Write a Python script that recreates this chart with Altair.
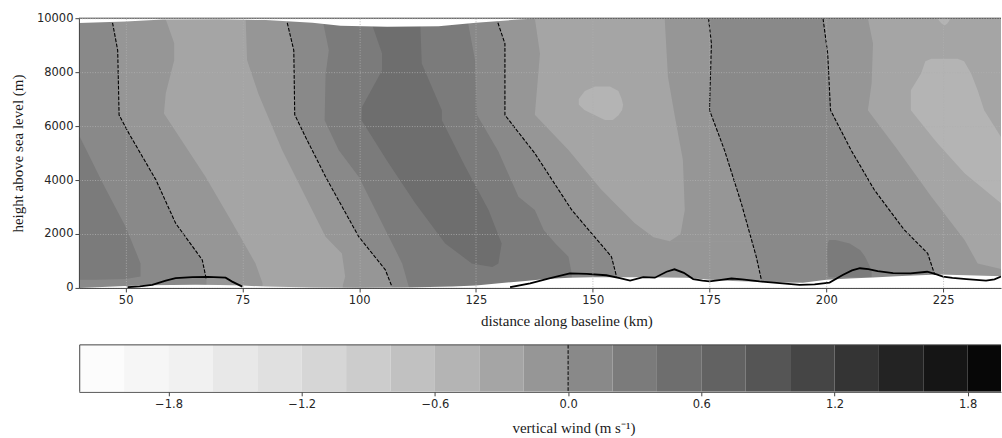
import altair as alt
import pandas as pd

# ------------------------------------------------------------------
# Cross-section of vertical wind along the baseline
# ------------------------------------------------------------------
X_MIN, X_MAX = 40.0, 237.4          # km shown along the baseline
Z_MIN, Z_MAX = 0, 10000             # m above sea level
CB_MIN, CB_MAX = -2.2036, 1.950     # visible part of the colour bar (m/s)

# filled-contour levels (m/s) and the grey shade of each band
levels = [-2.2, -2.0, -1.8, -1.6, -1.4, -1.2, -1.0, -0.8, -0.6, -0.4, -0.2,
          0.0, 0.2, 0.4, 0.6, 0.8, 1.0, 1.2, 1.4, 1.6, 1.8, 2.0]
greys = ["#fcfcfc", "#f6f6f6", "#f1f1f1", "#e8e8e8", "#e0e0e0", "#d6d6d6",
         "#cccccc", "#c1c1c1", "#b4b4b4", "#a5a5a5", "#969696", "#898989",
         "#7b7b7b", "#6e6e6e", "#626262", "#555555", "#454545", "#343434",
         "#232323", "#151515", "#070707"]
cb_ticks = [-1.8, -1.2, -0.6, 0.0, 0.6, 1.2, 1.8]

# vertical wind (band centre, m/s) of each shaded region
W_F, W_A, W_B, W_C, W_D, W_E = -0.5, -0.3, -0.1, 0.1, 0.3, 0.5

# zero contours of vertical wind (km, m)
zero1_km = [47.2, 48.3, 48.6, 50.7, 56.5, 60.7, 66.4, 67.3]
zero1_m = [9830, 8810, 6410, 5730, 4000, 2400, 1040, 300]
zero2_km = [84.6, 86.0, 86.2, 88.5, 92.8, 99.9, 105.6, 107.0]
zero2_m = [9830, 8810, 6420, 5600, 4120, 1900, 670, 50]
zero3_km = [129.7, 131.2, 131.2, 137.6, 145.5, 154.0, 155.1]
zero3_m = [9830, 9060, 6410, 4990, 2890, 1160, 420]
zero4_km = [174.8, 175.4, 175.0, 178.2, 181.8, 185.0, 186.1]
zero4_m = [9990, 9060, 6590, 5110, 3140, 1160, 300]
zero5_km = [199.3, 200.3, 200.9, 205.3, 210.3, 216.7, 221.7, 223.2]
zero5_m = [9990, 8690, 6590, 5110, 3630, 2150, 1280, 500]

# other band edges (km, m), west to east
a1_west_km = [58.6, 60.4, 60.4, 58.6, 58.2, 67.1, 72.1, 77.8, 79.3]
a1_west_m = [9950, 9070, 8440, 7230, 6470, 4120, 2640, 910, 180]
a1_east_km = [75.7, 76.0, 78.5, 83.5, 88.5, 92.8, 96.3, 97.0, 96.5]
a1_east_m = [9960, 8440, 7160, 5110, 3380, 1900, 1280, 420, 100]
d1_west_km = [92.4, 93.5, 92.8, 92.6, 95.6, 99.9, 104.9, 109.2, 110.6]
d1_west_m = [9740, 8810, 7900, 6220, 5110, 4120, 2400, 910, 50]
e1_west_km = [102.8, 104.9, 104.9, 100.6, 100.5, 106.3, 112.0, 118.4, 124.1, 128.5]
e1_west_m = [9740, 8690, 8070, 6710, 6220, 4620, 3140, 1650, 910, 780]
e1_east_km = [113.1, 113.4, 117.7, 117.7, 122.7, 127.7, 130.5, 129.8, 128.5]
e1_east_m = [9740, 8320, 6590, 6220, 4500, 2890, 1650, 910, 780]
d1_east_km = [123.4, 124.8, 125.2, 129.8, 134.1, 137.6, 139.5, 142.0, 144.8, 145.5]
d1_east_m = [9740, 8440, 6420, 5060, 3380, 2890, 2150, 1650, 1160, 540]
a2_west_km = [137.6, 138.7, 137.6, 144.8, 151.9, 159.0, 163.0, 166.5]
a2_west_m = [10000, 8690, 6420, 5110, 3630, 2400, 1880, 1730]
a2_east_km = [165.4, 166.1, 167.6, 169.3, 169.7, 168.8, 166.5]
a2_east_m = [10000, 7830, 6340, 4740, 2890, 2000, 1730]
a3_west_km = [208.9, 210.0, 209.7, 208.9, 215.3, 222.5, 229.6, 232.4, 237.4]
a3_west_m = [10000, 9060, 7580, 6590, 5110, 3380, 1780, 910, 700]

# closed cells: height (m), west edge (km), east edge (km)
d0_m = [5600, 4800, 3880, 2270, 910, 420, 330, 300]
d0_west = [40.0, 40.0, 40.0, 40.0, 40.0, 40.0, 40.0, 40.0]
d0_east = [40.2, 42.5, 45.1, 50.0, 53.2, 53.2, 50.0, 43.6]
f1_m = [7470, 7300, 7000, 6800, 6600, 6400, 6230]
f1_west = [150.5, 148.3, 147.0, 147.0, 148.2, 150.5, 152.6]
f1_east = [153.7, 155.5, 156.2, 156.5, 156.3, 155.5, 154.3]
d2_m = [1780, 1650, 1400, 1160, 800, 600, 400]
d2_west = [200.6, 200.3, 200.2, 200.2, 200.3, 200.3, 200.5]
d2_east = [202.0, 205.0, 207.3, 208.3, 209.3, 209.7, 209.7]
f2_m = [10000, 9900, 9800, 9740]
f2_west = [223.8, 224.2, 224.7, 225.2]
f2_east = [226.5, 226.3, 225.9, 225.4]
f3_m = [8500, 8400, 7950, 7330, 6590, 5600, 5360, 4250, 3140]
f3_west = [222.5, 221.2, 220.3, 218.1, 218.1, 222.7, 223.8, 229.6, 237.4]
f3_east = [228.1, 229.5, 231.0, 232.4, 233.8, 237.4, 237.4, 237.4, 237.4]

# upper and lower limits of the model domain (km, m)
lid_km = [40, 50, 58, 70, 80, 90, 96, 106, 117, 125, 134, 139, 237.4]
lid_m = [9820, 9880, 9950, 9960, 9930, 9830, 9720, 9680, 9700, 9830, 9950, 10000, 10000]
floor_km = [40, 45, 50, 55, 60, 65, 70, 75, 80, 90, 100, 110, 120, 125, 130,
            135, 140, 145, 150, 160, 170, 175, 180, 185, 190, 195, 200, 205,
            210, 215, 220, 224, 230, 237.4]
floor_m = [0, 30, 70, 100, 110, 120, 110, 90, 50, 20, 10, 20, 50, 90, 170,
           250, 330, 380, 400, 400, 380, 300, 260, 230, 200, 190, 300, 350,
           390, 430, 470, 500, 470, 430]

# terrain height along the baseline (km, m)
ridge_w_km = [50.4, 53.0, 55.7, 58.6, 60.7, 64.3, 67.6, 71.4, 72.8, 75.0]
ridge_w_m = [25, 60, 110, 270, 360, 400, 410, 380, 235, 50]
ridge_e_km = [132.3, 136.6, 140.9, 145.1, 148.7, 152.9, 155.8, 158.0, 160.8,
              163.3, 165.8, 167.5, 169.5, 171.5, 173.5, 175.0, 177.5, 179.7,
              182.0, 185.7, 190.0, 194.3, 197.5, 200.7, 203.5, 205.5, 207.2,
              209.0, 211.0, 214.3, 218.0, 221.6, 223.6, 225.0, 227.0, 230.0,
              234.2, 236.0, 237.4]
ridge_e_m = [25, 170, 360, 540, 520, 470, 360, 270, 400, 380, 600, 690, 560,
             330, 270, 240, 300, 350, 320, 240, 180, 110, 130, 200, 480, 650,
             730, 700, 620, 550, 540, 600, 500, 420, 370, 330, 270, 320, 420]

# ------------------------------------------------------------------
LABEL_FONT = "DejaVu Sans"
TITLE_FONT = "Liberation Serif"
INK = "#262626"
SPINE = "#444444"

xscale = alt.Scale(domain=[X_MIN, X_MAX], nice=False, zero=False)
yscale = alt.Scale(domain=[Z_MIN, Z_MAX], nice=False, zero=False)
cscale = alt.Scale(type="threshold", domain=levels[1:-1], range=greys)

x_axis = alt.Axis(values=[50, 75, 100, 125, 150, 175, 200, 225], format="d",
                  title="distance along baseline (km)", grid=True,
                  gridColor="#b0b0b0", gridDash=[1, 1.6], gridWidth=0.8,
                  domainColor=SPINE, tickColor=SPINE, tickSize=4,
                  labelFont=LABEL_FONT, labelFontSize=11.5, labelColor=INK,
                  labelPadding=3, titleFont=TITLE_FONT, titleFontSize=15,
                  titleFontWeight="normal", titleColor="#1a1a1a",
                  titleX=488, titlePadding=7, zindex=1)
y_axis = alt.Axis(values=[0, 2000, 4000, 6000, 8000, 10000], format="d",
                  title="height above sea level (m)", grid=True,
                  gridColor="#b0b0b0", gridDash=[1, 1.6], gridWidth=0.8,
                  domainColor=SPINE, tickColor=SPINE, tickSize=4,
                  labelFont=LABEL_FONT, labelFontSize=11.5, labelColor=INK,
                  labelPadding=2, titleFont=TITLE_FONT, titleFontSize=15,
                  titleFontWeight="normal", titleColor="#1a1a1a",
                  titlePadding=11, zindex=1)


def X(field):
    return alt.X(f"{field}:Q", scale=xscale, axis=x_axis)


def Y(field):
    return alt.Y(f"{field}:Q", scale=yscale, axis=y_axis)


def W(field):
    return alt.Color(f"{field}:Q", scale=cscale, legend=None)


def band_from(km, m, w, to_floor=True):
    """Shade everything east of an edge with the band colour w."""
    xs, zs = list(km), list(m)
    if zs[0] < Z_MAX:
        xs, zs = [xs[0]] + xs, [Z_MAX] + zs
    if to_floor and zs[-1] > Z_MIN:
        xs, zs = xs + [xs[-1]], zs + [Z_MIN]
    df = pd.DataFrame({"km": xs, "km_east": X_MAX, "m": zs, "w": w})
    return alt.Chart(df).mark_area(orient="horizontal", clip=True).encode(
        x=X("km"), x2="km_east", y=Y("m"), color=W("w"))


def cell(m, west, east, w):
    df = pd.DataFrame({"km": west, "km_east": east, "m": m, "w": w})
    return alt.Chart(df).mark_area(orient="horizontal", clip=True).encode(
        x=X("km"), x2="km_east", y=Y("m"), color=W("w"))


def contour(km, m):
    df = pd.DataFrame({"km": km, "m": m, "i": range(len(km))})
    return alt.Chart(df).mark_line(color="black", strokeWidth=1.1,
                                   strokeDash=[3.7, 1.6], clip=True).encode(
        x=X("km"), y=Y("m"), order="i:Q")


def ridge(km, m):
    df = pd.DataFrame({"km": km, "m": m})
    return alt.Chart(df).mark_line(color="black", strokeWidth=1.8,
                                   clip=True).encode(x=X("km"), y=Y("m"))


base = alt.Chart(pd.DataFrame({"km": [X_MIN], "km_east": [X_MAX], "m": [Z_MIN],
                               "m_top": [Z_MAX], "w": [W_C]})).mark_rect(clip=True).encode(
    x=X("km"), x2="km_east", y=Y("m"), y2="m_top", color=W("w"))

bands = [
    band_from(zero1_km, zero1_m, W_B),
    band_from(a1_west_km, a1_west_m, W_A),
    band_from(a1_east_km, a1_east_m, W_B),
    band_from(zero2_km, zero2_m, W_C),
    band_from(d1_west_km, d1_west_m, W_D),
    band_from(e1_west_km, e1_west_m, W_E, to_floor=False),
    band_from(e1_east_km, e1_east_m, W_D, to_floor=False),
    band_from(d1_east_km, d1_east_m, W_C),
    band_from(zero3_km, zero3_m, W_B),
    band_from(a2_west_km, a2_west_m, W_A, to_floor=False),
    band_from(a2_east_km, a2_east_m, W_B, to_floor=False),
    band_from(zero4_km, zero4_m, W_C),
    band_from(zero5_km, zero5_m, W_B),
    band_from(a3_west_km, a3_west_m, W_A, to_floor=False),
]
cells = [
    cell(d0_m, d0_west, d0_east, W_D),
    cell(f1_m, f1_west, f1_east, W_F),
    cell(d2_m, d2_west, d2_east, W_D),
    cell(f2_m, f2_west, f2_east, W_F),
    cell(f3_m, f3_west, f3_east, W_F),
]

lid = alt.Chart(pd.DataFrame({"km": lid_km, "m": lid_m, "top": Z_MAX})).mark_area(
    color="white", clip=True).encode(x=X("km"), y=Y("m"), y2="top")
floor = alt.Chart(pd.DataFrame({"km": floor_km, "m": floor_m, "bottom": Z_MIN})).mark_area(
    color="white", clip=True).encode(x=X("km"), y=Y("m"), y2="bottom")

zeros = [contour(zero1_km, zero1_m), contour(zero2_km, zero2_m),
         contour(zero3_km, zero3_m), contour(zero4_km, zero4_m),
         contour(zero5_km, zero5_m)]
terrain = [ridge(ridge_w_km, ridge_w_m), ridge(ridge_e_km, ridge_e_m)]

top_spine = alt.Chart(pd.DataFrame({"km": [X_MIN], "km_east": [X_MAX], "m": [Z_MAX]})).mark_rule(
    color=SPINE, strokeWidth=1).encode(x=X("km"), x2="km_east", y=Y("m"))

section = alt.layer(base, *bands, *cells, lid, floor, *zeros, *terrain,
                    top_spine).properties(width=923, height=270)

# ------------------------------------------------------------------
# colour bar
# ------------------------------------------------------------------
cbscale = alt.Scale(domain=[CB_MIN, CB_MAX], nice=False, zero=False)
cb_axis = alt.Axis(values=cb_ticks, format=".1f", title="vertical wind (m s⁻¹)",
                   grid=False, domainColor=SPINE, tickColor=SPINE, tickSize=4,
                   labelFont=LABEL_FONT, labelFontSize=11.5, labelColor=INK,
                   labelPadding=3, titleFont=TITLE_FONT, titleFontSize=15,
                   titleFontWeight="normal", titleColor="#1a1a1a",
                   titleX=495, titlePadding=10)

cb_df = pd.DataFrame({"lo": levels[:-1], "hi": levels[1:]})
cb_df["w"] = (cb_df["lo"] + cb_df["hi"]) / 2
cb_bands = alt.Chart(cb_df).mark_rect(clip=True).encode(
    x=alt.X("lo:Q", scale=cbscale, axis=cb_axis), x2="hi",
    color=W("w"))
cb_zero = alt.Chart(pd.DataFrame({"v": [0.0]})).mark_rule(
    color="black", strokeWidth=1, strokeDash=[3.7, 1.6]).encode(
    x=alt.X("v:Q", scale=cbscale, axis=cb_axis))
cb_top = alt.Chart(pd.DataFrame({"a": [levels[0]], "b": [CB_MAX]})).mark_rule(
    color=SPINE, strokeWidth=1).encode(
    x=alt.X("a:Q", scale=cbscale, axis=cb_axis), x2="b", y=alt.value(0))
cb_left = alt.Chart(pd.DataFrame({"a": [levels[0]]})).mark_rule(
    color=SPINE, strokeWidth=1).encode(x=alt.X("a:Q", scale=cbscale, axis=cb_axis))

colorbar = alt.layer(cb_bands, cb_zero, cb_top, cb_left).properties(width=923, height=47)

chart = alt.vconcat(section, colorbar, spacing=15).resolve_scale(
    x="independent", y="independent").properties(
    padding={"left": 10, "top": 12, "right": 0, "bottom": 0},
    background="white").configure_view(stroke=None)

chart.save("out.html", embed_options={"renderer": "svg", "actions": False})
